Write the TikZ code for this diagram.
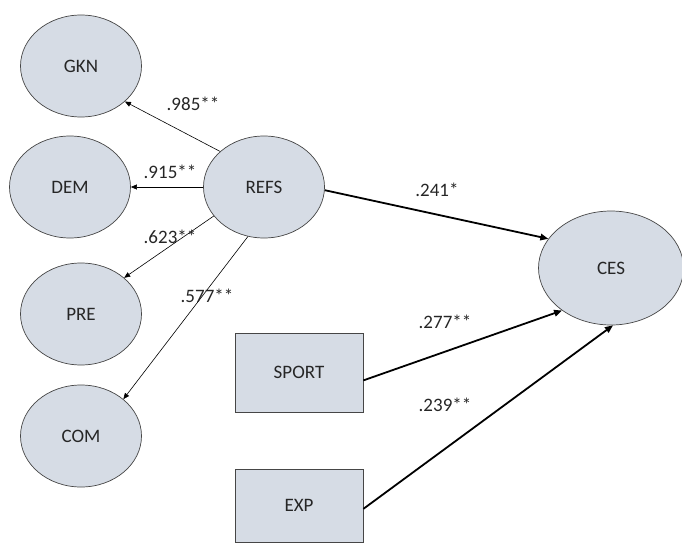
\documentclass[tikz,border=0pt]{standalone}
\usepackage{fontspec}
\setmainfont{Carlito}
\usetikzlibrary{shapes.geometric, arrows.meta}
\definecolor{boxfill}{RGB}{214,220,229}
\definecolor{boxline}{RGB}{70,70,70}
\tikzset{
latent/.style={draw=boxline, fill=boxfill, ellipse, line width=0.7pt, inner sep=0pt, minimum width=121pt, minimum height=102pt},
observed/.style={draw=boxline, fill=boxfill, rectangle, line width=0.7pt, inner sep=0pt, minimum width=128pt},
loading/.style={-{Triangle[length=6pt,width=5pt]}, line width=0.6pt},
path/.style={-{Triangle[length=8pt,width=6.5pt]}, line width=1.8pt},
coef/.style={inner sep=0pt},
}

\begin{document}
\begin{tikzpicture}[x=1pt, y=-1pt, every node/.style={font=\fontsize{19}{21}\selectfont, text=black!85}]
    \useasboundingbox (0,0) rectangle (682,543);

    %indicators on the left
    \node[latent]    (gkn) at (81,66)  {GKN};
    \node[latent]    (dem) at (70,187) {DEM};
    \node[latent]    (pre) at (81,314) {PRE};
    \node[latent]    (com) at (81,436) {COM};

    %main constructs
    \node[latent]   (refs) at (264,187) {REFS};
    \node[latent, minimum width=145pt, minimum height=114pt] (ces) at (611,268) {CES};

    %control variables
    \node[observed, minimum height=79pt] (sport) at (299,372.5) {SPORT};
    \node[observed, minimum height=73pt]   (exp) at (299,505.5) {EXP};


    %loadings
    \draw[loading]  (refs.141)--(gkn.321);
    \draw[loading]  (refs.west)--(dem.east);
    \draw[loading]  (refs.210)--(pre.40);
    \draw[loading]  (refs.252)--(com.41);

    %paths to CES
    \draw[path]  (refs.357)--(ces.155);
    \draw[path]  (sport.-7)--(ces.221);
    \draw[path]    (exp.-3)--(ces.272);


    %coefficients
    \node[coef] (c985) at (193,104) {.985**};
    \node[coef] (c915) at (170,172) {.915**};
    \node[coef] (c623) at (170,237) {.623**};
    \node[coef] (c577) at (207,296) {.577**};
    \node[coef] (c241) at (437,190) {.241*};
    \node[coef] (c277) at (445,322) {.277**};
    \node[coef] (c239) at (445,405) {.239**};

\end{tikzpicture}
\end{document}
